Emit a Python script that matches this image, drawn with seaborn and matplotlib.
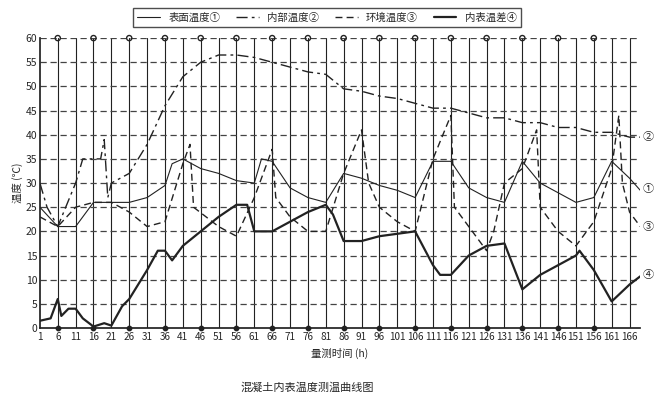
import matplotlib
matplotlib.use("Agg")
import matplotlib.pyplot as plt
import seaborn as sns
import pandas as pd
from matplotlib.lines import Line2D

sns.set_theme(style="white")
plt.rcParams['font.family'] = ['Noto Sans CJK SC', 'DejaVu Sans']

int_x = [1,3,6,11,13,16,18,19,20,21,26,31,36,41,46,51,56,61,66,71,76,81,86,91,96,101,106,111,116,121,126,131,136,141,146,151,156,161,166,169]
int_y = [30,25,21,30,35,35,35,39,27,30,32,38,46,52,55,56.5,56.5,56,55,54,53,52.5,49.5,49,48,47.5,46.5,45.5,45.5,44.5,43.5,43.5,42.5,42.5,41.5,41.5,40.5,40.5,39.5,39.5]
sur_x = [1,6,11,16,21,26,31,36,38,41,46,51,56,61,63,66,71,76,81,86,91,96,101,106,111,116,121,126,131,136,141,146,151,156,161,166,169]
sur_y = [25,21,21,26,26,26,27,29.5,34,35,33,32,30.5,30,35,34.5,29,27,26,32,31,29.5,28.5,27,34.5,34.5,29,27,26,34.5,30,28,26,27,34.5,31,28.5]
env_x = [1,6,11,16,21,26,31,36,41,43,44,51,56,61,66,67,71,76,81,86,91,93,96,101,106,111,116,117,126,128,131,136,140,141,146,151,156,161,163,164,166,169]
env_y = [23,21,25,26,26,24,21,22,34,38,25,21,19,27,37,27,23,20,20,32,41,30,25,22,20,35,44,25,16,20,30,33,41,25,20,17,22,33,44,30,24,21]
dif_x = [1,4,6,7,9,11,13,16,19,21,24,26,31,34,36,38,41,46,51,56,59,61,66,71,76,81,83,86,91,96,101,106,111,113,116,121,126,131,136,141,146,151,152,156,161,166,169]
dif_y = [1.5,2,6,2.5,4,4,2,0.3,1,0.5,4.5,6,12,16,16,14,17,20,23,25.5,25.5,20,20,22,24,25.5,23.5,18,18,19,19.5,20,13,11,11,15,17,17.5,8,11,13,15,16,12,5.5,9,10.7]
ticks = list(range(1, 167, 5))
marks = list(range(6, 157, 10))

fig = plt.figure(figsize=(6.54, 4.01), dpi=100)
ax = fig.add_axes([0.061, 0.182, 0.918, 0.723])
c = "#222222"
sns.lineplot(x=int_x, y=int_y, ax=ax, color=c, lw=1.0, linestyle=(0, (8, 3, 2, 3)))
sns.lineplot(x=sur_x, y=sur_y, ax=ax, color=c, lw=0.8)
sns.lineplot(x=env_x, y=env_y, ax=ax, color=c, lw=1.0, linestyle=(0, (5, 3)))
sns.lineplot(x=dif_x, y=dif_y, ax=ax, color=c, lw=1.6)
ax.scatter(marks, [60]*len(marks), s=14, facecolors="none", edgecolors=c, clip_on=False, zorder=5)
ax.scatter(marks, [0]*len(marks), s=10, color=c, clip_on=False, zorder=5)

ax.set_xlim(1, 169)
ax.set_ylim(0, 60)
ax.set_xticks(ticks)
ax.set_xticklabels([str(t) for t in ticks], fontsize=7.2)
ax.set_yticks(range(0, 61, 5))
ax.tick_params(axis='y', labelsize=7.5, length=0, pad=2)
ax.tick_params(axis='x', length=0, pad=3)
for t in ticks[1:]:
    ax.axvline(t, color=c, lw=0.8, zorder=0)
for v in range(5, 61, 5):
    ax.axhline(v, color="#444444", lw=0.9, ls=(0, (5, 3)), zorder=0)
for s in ["top", "right"]:
    ax.spines[s].set_visible(False)
ax.spines["left"].set_color(c)
ax.spines["bottom"].set_color(c)
ax.set_xlabel("量测时间 (h)", fontsize=7.5, labelpad=4)
ax.set_ylabel("温度 (℃)", fontsize=7.5, labelpad=2)

for txt, y in [("②", 39.5), ("①", 28.8), ("③", 21), ("④", 11)]:
    ax.text(169.6, y, txt, fontsize=8, va="center", ha="left", clip_on=False)

handles = [Line2D([], [], color=c, lw=0.8),
           Line2D([], [], color=c, lw=1.0, ls=(0, (8, 3, 2, 3))),
           Line2D([], [], color=c, lw=1.0, ls=(0, (5, 3))),
           Line2D([], [], color=c, lw=1.6)]
fig.legend(handles, ["表面温度①", "内部温度②", "环境温度③", "内表温差④"], ncol=4,
           loc="center", bbox_to_anchor=(0.5, 0.957), fontsize=7.5, frameon=True,
           fancybox=False, edgecolor=c, handlelength=2.2, columnspacing=1.5)
fig.text(0.47, 0.025, "混凝土内表温度测温曲线图", ha="center", fontsize=8)
fig.savefig("out.png", dpi=100)
